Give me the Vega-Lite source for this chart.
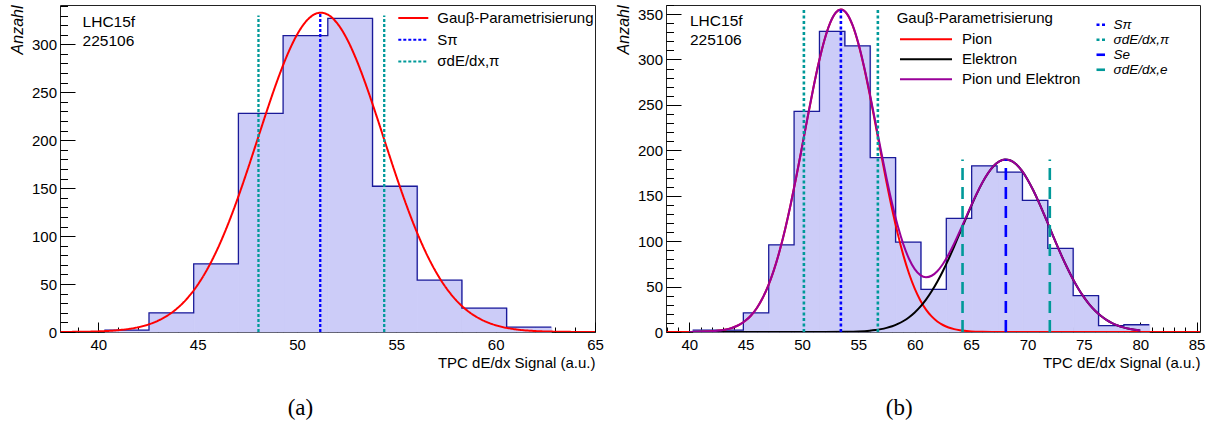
{
  "$schema": "https://vega.github.io/schema/vega-lite/v6.json",
  "background": "white",
  "padding": {"left": 8, "top": 3, "right": 0, "bottom": 0},
  "spacing": 10,
  "resolve": {"scale": {"color": "independent", "strokeDash": "independent"}},
  "config": {
    "view": {"stroke": "#222", "strokeWidth": 1},
    "font": "Liberation Sans",
    "axis": {"labelFont": "Liberation Sans", "labelFontSize": 15, "labelColor": "#000", "tickColor": "#000", "tickWidth": 1, "titleFont": "Liberation Sans", "titleColor": "#000", "titleFontWeight": "normal", "grid": false, "domain": false, "zindex": 1, "labelFlush": false, "labelOverlap": false},
    "legend": {"labelFont": "Liberation Sans", "labelFontSize": 15, "labelColor": "#000", "titleFont": "Liberation Sans", "titleFontWeight": "normal", "titleFontSize": 15, "titleColor": "#000", "padding": 0}
  },
  "datasets": {
    "hist_a": [
      {"lo": 40.3, "hi": 42.55, "n": 2}, {"lo": 42.55, "hi": 44.8, "n": 20}, {"lo": 44.8, "hi": 47.05, "n": 71},
      {"lo": 47.05, "hi": 49.3, "n": 228}, {"lo": 49.3, "hi": 51.55, "n": 309}, {"lo": 51.55, "hi": 53.8, "n": 327},
      {"lo": 53.8, "hi": 56.05, "n": 152}, {"lo": 56.05, "hi": 58.3, "n": 54}, {"lo": 58.3, "hi": 60.55, "n": 25},
      {"lo": 60.55, "hi": 62.8, "n": 5}
    ],
    "fit_a": [
      {"series": "Gauβ-Parametrisierung", "x": 38.1, "y": 0.06}, {"series": "Gauβ-Parametrisierung", "x": 39, "y": 0.2}, {"series": "Gauβ-Parametrisierung", "x": 40, "y": 0.65},
      {"series": "Gauβ-Parametrisierung", "x": 41, "y": 1.88}, {"series": "Gauβ-Parametrisierung", "x": 42, "y": 4.94}, {"series": "Gauβ-Parametrisierung", "x": 42.5, "y": 7.7},
      {"series": "Gauβ-Parametrisierung", "x": 43, "y": 11.73}, {"series": "Gauβ-Parametrisierung", "x": 43.5, "y": 17.43}, {"series": "Gauβ-Parametrisierung", "x": 44, "y": 25.25},
      {"series": "Gauβ-Parametrisierung", "x": 44.5, "y": 35.68}, {"series": "Gauβ-Parametrisierung", "x": 45, "y": 49.17}, {"series": "Gauβ-Parametrisierung", "x": 45.5, "y": 66.12},
      {"series": "Gauβ-Parametrisierung", "x": 46, "y": 86.72}, {"series": "Gauβ-Parametrisierung", "x": 46.5, "y": 110.94}, {"series": "Gauβ-Parametrisierung", "x": 47, "y": 138.44},
      {"series": "Gauβ-Parametrisierung", "x": 47.5, "y": 168.5}, {"series": "Gauβ-Parametrisierung", "x": 48, "y": 200.07}, {"series": "Gauβ-Parametrisierung", "x": 48.5, "y": 231.71},
      {"series": "Gauβ-Parametrisierung", "x": 49, "y": 261.73}, {"series": "Gauβ-Parametrisierung", "x": 49.5, "y": 288.4}, {"series": "Gauβ-Parametrisierung", "x": 50, "y": 309.98},
      {"series": "Gauβ-Parametrisierung", "x": 50.5, "y": 324.98}, {"series": "Gauβ-Parametrisierung", "x": 51, "y": 332.34}, {"series": "Gauβ-Parametrisierung", "x": 51.2, "y": 333},
      {"series": "Gauβ-Parametrisierung", "x": 51.5, "y": 331.51}, {"series": "Gauβ-Parametrisierung", "x": 52, "y": 322.56}, {"series": "Gauβ-Parametrisierung", "x": 52.5, "y": 306.14},
      {"series": "Gauβ-Parametrisierung", "x": 53, "y": 283.42}, {"series": "Gauβ-Parametrisierung", "x": 53.5, "y": 255.94}, {"series": "Gauβ-Parametrisierung", "x": 54, "y": 225.44},
      {"series": "Gauβ-Parametrisierung", "x": 54.5, "y": 193.69}, {"series": "Gauβ-Parametrisierung", "x": 55, "y": 162.33}, {"series": "Gauβ-Parametrisierung", "x": 55.5, "y": 132.71},
      {"series": "Gauβ-Parametrisierung", "x": 56, "y": 105.82}, {"series": "Gauβ-Parametrisierung", "x": 56.5, "y": 82.31}, {"series": "Gauβ-Parametrisierung", "x": 57, "y": 62.44},
      {"series": "Gauβ-Parametrisierung", "x": 57.5, "y": 46.21}, {"series": "Gauβ-Parametrisierung", "x": 58, "y": 33.36}, {"series": "Gauβ-Parametrisierung", "x": 58.5, "y": 23.49},
      {"series": "Gauβ-Parametrisierung", "x": 59, "y": 16.13}, {"series": "Gauβ-Parametrisierung", "x": 59.5, "y": 10.81}, {"series": "Gauβ-Parametrisierung", "x": 60, "y": 7.07},
      {"series": "Gauβ-Parametrisierung", "x": 61, "y": 2.8}, {"series": "Gauβ-Parametrisierung", "x": 62, "y": 1.0}, {"series": "Gauβ-Parametrisierung", "x": 63, "y": 0.33},
      {"series": "Gauβ-Parametrisierung", "x": 64, "y": 0.1}, {"series": "Gauβ-Parametrisierung", "x": 65, "y": 0.03}
    ],
    "lines_a": [
      {"id": 1, "x": 48.06, "bottom": 0, "top": 330, "series": "σdE/dx,π"},
      {"id": 2, "x": 51.17, "bottom": 0, "top": 333, "series": "Sπ"},
      {"id": 3, "x": 54.39, "bottom": 0, "top": 330, "series": "σdE/dx,π"}
    ],
    "hist_b": [
      {"lo": 40.3, "hi": 42.55, "n": 2}, {"lo": 42.55, "hi": 44.8, "n": 2}, {"lo": 44.8, "hi": 47.05, "n": 21},
      {"lo": 47.05, "hi": 49.3, "n": 96}, {"lo": 49.3, "hi": 51.55, "n": 243}, {"lo": 51.55, "hi": 53.8, "n": 331},
      {"lo": 53.8, "hi": 56.05, "n": 315}, {"lo": 56.05, "hi": 58.3, "n": 192}, {"lo": 58.3, "hi": 60.55, "n": 99},
      {"lo": 60.55, "hi": 62.8, "n": 47}, {"lo": 62.8, "hi": 65.05, "n": 125}, {"lo": 65.05, "hi": 67.3, "n": 183},
      {"lo": 67.3, "hi": 69.55, "n": 176}, {"lo": 69.55, "hi": 71.8, "n": 145}, {"lo": 71.8, "hi": 74.05, "n": 92},
      {"lo": 74.05, "hi": 76.3, "n": 40}, {"lo": 76.3, "hi": 78.55, "n": 7}, {"lo": 78.55, "hi": 80.8, "n": 8}
    ],
    "fit_b": [
      {"curve": "Pion", "x": 38, "y": 0.0}, {"curve": "Pion", "x": 39, "y": 0.02}, {"curve": "Pion", "x": 40, "y": 0.08},
      {"curve": "Pion", "x": 41, "y": 0.25}, {"curve": "Pion", "x": 42, "y": 0.77}, {"curve": "Pion", "x": 42.5, "y": 1.3},
      {"curve": "Pion", "x": 43, "y": 2.15}, {"curve": "Pion", "x": 43.5, "y": 3.47}, {"curve": "Pion", "x": 44, "y": 5.45},
      {"curve": "Pion", "x": 44.5, "y": 8.39}, {"curve": "Pion", "x": 45, "y": 12.6}, {"curve": "Pion", "x": 45.5, "y": 18.47},
      {"curve": "Pion", "x": 46, "y": 26.49}, {"curve": "Pion", "x": 46.5, "y": 37.11}, {"curve": "Pion", "x": 47, "y": 50.74},
      {"curve": "Pion", "x": 47.5, "y": 67.8}, {"curve": "Pion", "x": 48, "y": 88.52}, {"curve": "Pion", "x": 48.5, "y": 112.89},
      {"curve": "Pion", "x": 49, "y": 140.63}, {"curve": "Pion", "x": 49.5, "y": 171.15}, {"curve": "Pion", "x": 50, "y": 203.47},
      {"curve": "Pion", "x": 50.5, "y": 236.32}, {"curve": "Pion", "x": 51, "y": 268.12}, {"curve": "Pion", "x": 51.5, "y": 297.17},
      {"curve": "Pion", "x": 52, "y": 321.77}, {"curve": "Pion", "x": 52.5, "y": 340.33}, {"curve": "Pion", "x": 53, "y": 351.65},
      {"curve": "Pion", "x": 53.45, "y": 355}, {"curve": "Pion", "x": 54, "y": 350.02}, {"curve": "Pion", "x": 54.5, "y": 337.16},
      {"curve": "Pion", "x": 55, "y": 317.28}, {"curve": "Pion", "x": 55.5, "y": 291.66}, {"curve": "Pion", "x": 56, "y": 261.94},
      {"curve": "Pion", "x": 56.5, "y": 229.77}, {"curve": "Pion", "x": 57, "y": 196.94}, {"curve": "Pion", "x": 57.5, "y": 164.88},
      {"curve": "Pion", "x": 58, "y": 134.83}, {"curve": "Pion", "x": 58.5, "y": 107.74}, {"curve": "Pion", "x": 59, "y": 84.09},
      {"curve": "Pion", "x": 59.5, "y": 64.11}, {"curve": "Pion", "x": 60, "y": 47.75}, {"curve": "Pion", "x": 60.5, "y": 34.74},
      {"curve": "Pion", "x": 61, "y": 24.69}, {"curve": "Pion", "x": 61.5, "y": 17.15}, {"curve": "Pion", "x": 62, "y": 11.63},
      {"curve": "Pion", "x": 62.5, "y": 7.71}, {"curve": "Pion", "x": 63, "y": 4.99}, {"curve": "Pion", "x": 63.5, "y": 3.16},
      {"curve": "Pion", "x": 64, "y": 1.95}, {"curve": "Pion", "x": 65, "y": 0.69}, {"curve": "Pion", "x": 66, "y": 0.22},
      {"curve": "Pion", "x": 67, "y": 0.07}, {"curve": "Pion", "x": 68, "y": 0.02}, {"curve": "Pion", "x": 70, "y": 0},
      {"curve": "Pion", "x": 75, "y": 0}, {"curve": "Pion", "x": 80, "y": 0}, {"curve": "Pion", "x": 85.3, "y": 0},
      {"curve": "Elektron", "x": 40, "y": 0}, {"curve": "Elektron", "x": 45, "y": 0}, {"curve": "Elektron", "x": 50, "y": 0},
      {"curve": "Elektron", "x": 52, "y": 0.03}, {"curve": "Elektron", "x": 54, "y": 0.25}, {"curve": "Elektron", "x": 55, "y": 0.63},
      {"curve": "Elektron", "x": 56, "y": 1.46}, {"curve": "Elektron", "x": 56.5, "y": 2.16}, {"curve": "Elektron", "x": 57, "y": 3.15},
      {"curve": "Elektron", "x": 57.5, "y": 4.53}, {"curve": "Elektron", "x": 58, "y": 6.39}, {"curve": "Elektron", "x": 58.5, "y": 8.87},
      {"curve": "Elektron", "x": 59, "y": 12.11}, {"curve": "Elektron", "x": 59.5, "y": 16.27}, {"curve": "Elektron", "x": 60, "y": 21.49},
      {"curve": "Elektron", "x": 60.5, "y": 27.9}, {"curve": "Elektron", "x": 61, "y": 35.64}, {"curve": "Elektron", "x": 61.5, "y": 44.77},
      {"curve": "Elektron", "x": 62, "y": 55.3}, {"curve": "Elektron", "x": 62.5, "y": 67.19}, {"curve": "Elektron", "x": 63, "y": 80.27},
      {"curve": "Elektron", "x": 63.5, "y": 94.32}, {"curve": "Elektron", "x": 64, "y": 108.98}, {"curve": "Elektron", "x": 64.5, "y": 123.86},
      {"curve": "Elektron", "x": 65, "y": 138.42}, {"curve": "Elektron", "x": 65.5, "y": 152.14}, {"curve": "Elektron", "x": 66, "y": 164.45},
      {"curve": "Elektron", "x": 66.5, "y": 174.82}, {"curve": "Elektron", "x": 67, "y": 182.74}, {"curve": "Elektron", "x": 67.5, "y": 187.88},
      {"curve": "Elektron", "x": 68, "y": 189.96}, {"curve": "Elektron", "x": 68.5, "y": 188.88}, {"curve": "Elektron", "x": 69, "y": 184.71},
      {"curve": "Elektron", "x": 69.5, "y": 177.63}, {"curve": "Elektron", "x": 70, "y": 168.0}, {"curve": "Elektron", "x": 70.5, "y": 156.26},
      {"curve": "Elektron", "x": 71, "y": 142.94}, {"curve": "Elektron", "x": 71.5, "y": 128.58}, {"curve": "Elektron", "x": 72, "y": 113.76},
      {"curve": "Elektron", "x": 72.5, "y": 98.97}, {"curve": "Elektron", "x": 73, "y": 84.68}, {"curve": "Elektron", "x": 73.5, "y": 71.26},
      {"curve": "Elektron", "x": 74, "y": 58.97}, {"curve": "Elektron", "x": 74.5, "y": 47.99}, {"curve": "Elektron", "x": 75, "y": 38.41},
      {"curve": "Elektron", "x": 75.5, "y": 30.24}, {"curve": "Elektron", "x": 76, "y": 23.4}, {"curve": "Elektron", "x": 76.5, "y": 17.82},
      {"curve": "Elektron", "x": 77, "y": 13.34}, {"curve": "Elektron", "x": 77.5, "y": 9.82}, {"curve": "Elektron", "x": 78, "y": 7.11},
      {"curve": "Elektron", "x": 78.5, "y": 5.06}, {"curve": "Elektron", "x": 79, "y": 3.55}, {"curve": "Elektron", "x": 79.5, "y": 2.44},
      {"curve": "Elektron", "x": 80, "y": 1.65},
      {"curve": "Pion und Elektron", "x": 40, "y": 0.08}, {"curve": "Pion und Elektron", "x": 41, "y": 0.25}, {"curve": "Pion und Elektron", "x": 42, "y": 0.77},
      {"curve": "Pion und Elektron", "x": 42.5, "y": 1.3}, {"curve": "Pion und Elektron", "x": 43, "y": 2.15}, {"curve": "Pion und Elektron", "x": 43.5, "y": 3.47},
      {"curve": "Pion und Elektron", "x": 44, "y": 5.45}, {"curve": "Pion und Elektron", "x": 44.5, "y": 8.39}, {"curve": "Pion und Elektron", "x": 45, "y": 12.6},
      {"curve": "Pion und Elektron", "x": 45.5, "y": 18.47}, {"curve": "Pion und Elektron", "x": 46, "y": 26.49}, {"curve": "Pion und Elektron", "x": 46.5, "y": 37.11},
      {"curve": "Pion und Elektron", "x": 47, "y": 50.74}, {"curve": "Pion und Elektron", "x": 47.5, "y": 67.8}, {"curve": "Pion und Elektron", "x": 48, "y": 88.52},
      {"curve": "Pion und Elektron", "x": 48.5, "y": 112.89}, {"curve": "Pion und Elektron", "x": 49, "y": 140.63}, {"curve": "Pion und Elektron", "x": 49.5, "y": 171.15},
      {"curve": "Pion und Elektron", "x": 50, "y": 203.47}, {"curve": "Pion und Elektron", "x": 50.5, "y": 236.32}, {"curve": "Pion und Elektron", "x": 51, "y": 268.12},
      {"curve": "Pion und Elektron", "x": 51.5, "y": 297.18}, {"curve": "Pion und Elektron", "x": 52, "y": 321.8}, {"curve": "Pion und Elektron", "x": 52.5, "y": 340.38},
      {"curve": "Pion und Elektron", "x": 53, "y": 351.75}, {"curve": "Pion und Elektron", "x": 53.45, "y": 355.1}, {"curve": "Pion und Elektron", "x": 54, "y": 350.27},
      {"curve": "Pion und Elektron", "x": 54.5, "y": 337.56}, {"curve": "Pion und Elektron", "x": 55, "y": 317.91}, {"curve": "Pion und Elektron", "x": 55.5, "y": 292.62},
      {"curve": "Pion und Elektron", "x": 56, "y": 263.4}, {"curve": "Pion und Elektron", "x": 56.5, "y": 231.93}, {"curve": "Pion und Elektron", "x": 57, "y": 200.09},
      {"curve": "Pion und Elektron", "x": 57.5, "y": 169.41}, {"curve": "Pion und Elektron", "x": 58, "y": 141.22}, {"curve": "Pion und Elektron", "x": 58.5, "y": 116.61},
      {"curve": "Pion und Elektron", "x": 59, "y": 96.2}, {"curve": "Pion und Elektron", "x": 59.5, "y": 80.38}, {"curve": "Pion und Elektron", "x": 60, "y": 69.24},
      {"curve": "Pion und Elektron", "x": 60.5, "y": 62.64}, {"curve": "Pion und Elektron", "x": 61, "y": 60.33}, {"curve": "Pion und Elektron", "x": 61.5, "y": 61.92},
      {"curve": "Pion und Elektron", "x": 62, "y": 66.93}, {"curve": "Pion und Elektron", "x": 62.5, "y": 74.9}, {"curve": "Pion und Elektron", "x": 63, "y": 85.26},
      {"curve": "Pion und Elektron", "x": 63.5, "y": 97.48}, {"curve": "Pion und Elektron", "x": 64, "y": 110.93}, {"curve": "Pion und Elektron", "x": 64.5, "y": 125.04},
      {"curve": "Pion und Elektron", "x": 65, "y": 139.11}, {"curve": "Pion und Elektron", "x": 65.5, "y": 152.54}, {"curve": "Pion und Elektron", "x": 66, "y": 164.67},
      {"curve": "Pion und Elektron", "x": 66.5, "y": 174.94}, {"curve": "Pion und Elektron", "x": 67, "y": 182.81}, {"curve": "Pion und Elektron", "x": 67.5, "y": 187.9},
      {"curve": "Pion und Elektron", "x": 68, "y": 189.98}, {"curve": "Pion und Elektron", "x": 68.5, "y": 188.88}, {"curve": "Pion und Elektron", "x": 69, "y": 184.71},
      {"curve": "Pion und Elektron", "x": 69.5, "y": 177.63}, {"curve": "Pion und Elektron", "x": 70, "y": 168.0}, {"curve": "Pion und Elektron", "x": 70.5, "y": 156.26},
      {"curve": "Pion und Elektron", "x": 71, "y": 142.94}, {"curve": "Pion und Elektron", "x": 71.5, "y": 128.58}, {"curve": "Pion und Elektron", "x": 72, "y": 113.76},
      {"curve": "Pion und Elektron", "x": 72.5, "y": 98.97}, {"curve": "Pion und Elektron", "x": 73, "y": 84.68}, {"curve": "Pion und Elektron", "x": 73.5, "y": 71.26},
      {"curve": "Pion und Elektron", "x": 74, "y": 58.97}, {"curve": "Pion und Elektron", "x": 74.5, "y": 47.99}, {"curve": "Pion und Elektron", "x": 75, "y": 38.41},
      {"curve": "Pion und Elektron", "x": 75.5, "y": 30.24}, {"curve": "Pion und Elektron", "x": 76, "y": 23.4}, {"curve": "Pion und Elektron", "x": 76.5, "y": 17.82},
      {"curve": "Pion und Elektron", "x": 77, "y": 13.34}, {"curve": "Pion und Elektron", "x": 77.5, "y": 9.82}, {"curve": "Pion und Elektron", "x": 78, "y": 7.11},
      {"curve": "Pion und Elektron", "x": 78.5, "y": 5.06}, {"curve": "Pion und Elektron", "x": 79, "y": 3.55}, {"curve": "Pion und Elektron", "x": 79.5, "y": 2.44},
      {"curve": "Pion und Elektron", "x": 80, "y": 1.65}
    ],
    "lines_b": [
      {"id": 1, "x": 50.17, "bottom": 0, "top": 355, "series": "σdE/dx,π"},
      {"id": 2, "x": 53.45, "bottom": 0, "top": 355, "series": "Sπ"},
      {"id": 3, "x": 56.73, "bottom": 0, "top": 355, "series": "σdE/dx,π"},
      {"id": 4, "x": 64.24, "bottom": 0, "top": 190, "series": "σdE/dx,e"},
      {"id": 5, "x": 68.08, "bottom": 0, "top": 190, "series": "Se"},
      {"id": 6, "x": 71.98, "bottom": 0, "top": 190, "series": "σdE/dx,e"}
    ]
  },
  "hconcat": [
    {
      "title": {"text": "(a)", "orient": "bottom", "anchor": "middle", "font": "Liberation Serif", "fontSize": 23, "fontWeight": "normal", "color": "#000", "offset": 26, "dx": -6},
      "vconcat": [
        {
          "width": 535,
          "height": 327,
          "title": {"text": "LHC15f", "subtitle": "225106", "orient": "top", "anchor": "start", "frame": "group", "offset": -44, "dx": 22.6, "font": "Liberation Sans", "fontSize": 15.5, "fontWeight": "normal", "color": "#000", "subtitleFont": "Liberation Sans", "subtitleFontSize": 15.5, "subtitleColor": "#000", "subtitlePadding": 3},
          "layer": [
            {
              "data": {"name": "hist_a"},
              "mark": {"type": "bar", "fill": "#ccccf8", "stroke": "#ccccf8", "opacity": 1, "strokeWidth": 0.8, "binSpacing": 0},
              "encoding": {
                "x": {"field": "lo", "type": "quantitative", "bin": "binned", "scale": {"domain": [38.07, 65], "nice": false, "zero": false},
                  "axis": {"orient": "bottom", "values": [40, 45, 50, 55, 60, 65], "tickSize": -10, "labelPadding": 15, "title": "TPC dE/dx Signal (a.u.)", "titleAnchor": "end", "titleFontSize": 15, "titlePadding": 3}},
                "x2": {"field": "hi"},
                "y": {"field": "n", "type": "quantitative", "scale": {"domain": [0, 341], "nice": false},
                  "axis": {"orient": "left", "values": [0, 50, 100, 150, 200, 250, 300], "tickSize": -15, "labelPadding": 18.5, "title": "Anzahl", "titleAnchor": "end", "titleFontStyle": "italic", "titleFontSize": 16, "titlePadding": 6}}
              }
            },
            {
              "data": {"name": "hist_a"},
              "transform": [{"fold": ["lo", "hi"], "as": ["key", "xv"]}],
              "mark": {"type": "line", "stroke": "#1a1a99", "strokeWidth": 1.3},
              "encoding": {
                "x": {"field": "xv", "type": "quantitative",
                  "axis": {"orient": "bottom", "values": [39, 41, 42, 43, 44, 46, 47, 48, 49, 51, 52, 53, 54, 56, 57, 58, 59, 61, 62, 63, 64], "tickSize": -5, "labels": false, "title": null}},
                "y": {"field": "n", "type": "quantitative",
                  "axis": {"orient": "left", "values": [10, 20, 30, 40, 60, 70, 80, 90, 110, 120, 130, 140, 160, 170, 180, 190, 210, 220, 230, 240, 260, 270, 280, 290, 310, 320, 330, 340], "tickSize": -7.5, "labels": false, "title": null}},
                "order": {"field": "xv", "type": "quantitative"}
              }
            },
            {
              "data": {"name": "fit_a"},
              "mark": {"type": "line", "strokeWidth": 2, "clip": true, "interpolate": "monotone"},
              "encoding": {
                "x": {"field": "x", "type": "quantitative", "axis": null},
                "y": {"field": "y", "type": "quantitative", "axis": null},
                "color": {"field": "series", "type": "nominal",
                  "scale": {"domain": ["Gauβ-Parametrisierung", "Sπ", "σdE/dx,π"], "range": ["#ff0000", "#0000ff", "#009999"]},
                  "legend": {"orient": "none", "legendX": 343.8, "legendY": 3.5, "title": null, "symbolType": "M-1.765,0H1.765", "symbolSize": 289, "symbolStrokeWidth": 2, "symbolOffset": 0, "labelOffset": 14.5, "rowPadding": 3.7, "labelFontSize": 15}},
                "strokeDash": {"field": "series", "type": "nominal",
                  "scale": {"domain": ["Gauβ-Parametrisierung", "Sπ", "σdE/dx,π"], "range": [[1, 0], [3, 2], [3, 2]]},
                  "legend": {"orient": "none", "legendX": 343.8, "legendY": 3.5, "title": null, "symbolType": "M-1.765,0H1.765", "symbolSize": 289, "symbolStrokeWidth": 2, "symbolOffset": 0, "labelOffset": 14.5, "rowPadding": 3.7, "labelFontSize": 15}}
              }
            },
            {
              "data": {"name": "lines_a"},
              "transform": [{"fold": ["bottom", "top"], "as": ["end", "yv"]}],
              "mark": {"type": "line", "strokeWidth": 2.3},
              "encoding": {
                "x": {"field": "x", "type": "quantitative", "axis": null},
                "y": {"field": "yv", "type": "quantitative", "axis": null},
                "detail": {"field": "id", "type": "nominal"},
                "color": {"field": "series", "type": "nominal"},
                "strokeDash": {"field": "series", "type": "nominal"}
              }
            }
          ],
          "resolve": {"axis": {"x": "independent", "y": "independent"}}
        }
      ]
    },
    {
      "title": {"text": "(b)", "orient": "bottom", "anchor": "middle", "font": "Liberation Serif", "fontSize": 23, "fontWeight": "normal", "color": "#000", "offset": 26, "dx": -11},
      "vconcat": [
        {
          "width": 534,
          "height": 327,
          "title": {"text": "LHC15f", "subtitle": "225106", "orient": "top", "anchor": "start", "frame": "group", "offset": -44, "dx": 24, "font": "Liberation Sans", "fontSize": 15.5, "fontWeight": "normal", "color": "#000", "subtitleFont": "Liberation Sans", "subtitleFontSize": 15.5, "subtitleColor": "#000", "subtitlePadding": 3},
          "layer": [
            {
              "data": {"name": "hist_b"},
              "mark": {"type": "bar", "fill": "#ccccf8", "stroke": "#ccccf8", "opacity": 1, "strokeWidth": 0.8, "binSpacing": 0},
              "encoding": {
                "x": {"field": "lo", "type": "quantitative", "bin": "binned", "scale": {"domain": [37.94, 85.3], "nice": false, "zero": false},
                  "axis": {"orient": "bottom", "values": [40, 45, 50, 55, 60, 65, 70, 75, 80, 85], "tickSize": -10, "labelPadding": 15, "title": "TPC dE/dx Signal (a.u.)", "titleAnchor": "end", "titleFontSize": 15, "titlePadding": 3}},
                "x2": {"field": "hi"},
                "y": {"field": "n", "type": "quantitative", "scale": {"domain": [0, 360], "nice": false},
                  "axis": {"orient": "left", "values": [0, 50, 100, 150, 200, 250, 300, 350], "tickSize": -15, "labelPadding": 18.5, "title": "Anzahl", "titleAnchor": "end", "titleFontStyle": "italic", "titleFontSize": 16, "titlePadding": 6}}
              }
            },
            {
              "data": {"name": "hist_b"},
              "transform": [{"fold": ["lo", "hi"], "as": ["key", "xv"]}],
              "mark": {"type": "line", "stroke": "#1a1a99", "strokeWidth": 1.3},
              "encoding": {
                "x": {"field": "xv", "type": "quantitative",
                  "axis": {"orient": "bottom", "values": [38, 39, 41, 42, 43, 44, 46, 47, 48, 49, 51, 52, 53, 54, 56, 57, 58, 59, 61, 62, 63, 64, 66, 67, 68, 69, 71, 72, 73, 74, 76, 77, 78, 79, 81, 82, 83, 84], "tickSize": -5, "labels": false, "title": null}},
                "y": {"field": "n", "type": "quantitative",
                  "axis": {"orient": "left", "values": [10, 20, 30, 40, 60, 70, 80, 90, 110, 120, 130, 140, 160, 170, 180, 190, 210, 220, 230, 240, 260, 270, 280, 290, 310, 320, 330, 340, 360], "tickSize": -7.5, "labels": false, "title": null}},
                "order": {"field": "xv", "type": "quantitative"}
              }
            },
            {
              "data": {"name": "fit_b"},
              "mark": {"type": "line", "strokeWidth": 2, "clip": true, "interpolate": "monotone"},
              "encoding": {
                "x": {"field": "x", "type": "quantitative", "axis": null},
                "y": {"field": "y", "type": "quantitative", "axis": null},
                "color": {"field": "curve", "type": "nominal",
                  "scale": {"domain": ["Pion", "Elektron", "Pion und Elektron"], "range": ["#ff0000", "#000000", "#990099"]},
                  "legend": {"orient": "none", "legendX": 230.7, "legendY": 5.5, "title": "Gauβ-Parametrisierung", "titlePadding": 4.3, "symbolType": "M-3.06,0H3.06", "symbolSize": 289, "symbolStrokeWidth": 2, "symbolOffset": 19.8, "labelOffset": 26.5, "rowPadding": 2, "labelFontSize": 15}}
              }
            },
            {
              "data": {"name": "lines_b"},
              "transform": [{"fold": ["bottom", "top"], "as": ["end", "yv"]}],
              "mark": {"type": "line", "strokeWidth": 2.6},
              "encoding": {
                "x": {"field": "x", "type": "quantitative", "axis": null},
                "y": {"field": "yv", "type": "quantitative", "axis": null},
                "detail": {"field": "id", "type": "nominal"},
                "color": {"field": "series", "type": "nominal",
                  "scale": {"domain": ["Sπ", "σdE/dx,π", "Se", "σdE/dx,e"], "range": ["#0000ff", "#009999", "#0000ff", "#009999"]},
                  "legend": {"orient": "none", "legendX": 428, "legendY": 13, "title": null, "symbolType": "M-0.85,0H0.85", "symbolSize": 100, "symbolStrokeWidth": 2.6, "symbolOffset": 0, "labelOffset": 6, "rowPadding": 0, "labelFontSize": 13.5, "labelFontStyle": "italic"}},
                "strokeDash": {"field": "series", "type": "nominal",
                  "scale": {"domain": ["Sπ", "σdE/dx,π", "Se", "σdE/dx,e"], "range": [[3, 2.5], [3, 2.5], [12, 7], [12, 7]]},
                  "legend": {"orient": "none", "legendX": 428, "legendY": 13, "title": null, "symbolType": "M-0.85,0H0.85", "symbolSize": 100, "symbolStrokeWidth": 2.6, "symbolOffset": 0, "labelOffset": 6, "rowPadding": 0, "labelFontSize": 13.5, "labelFontStyle": "italic"}}
              }
            }
          ],
          "resolve": {"axis": {"x": "independent", "y": "independent"}, "scale": {"color": "independent", "strokeDash": "independent"}}
        }
      ]
    }
  ]
}
